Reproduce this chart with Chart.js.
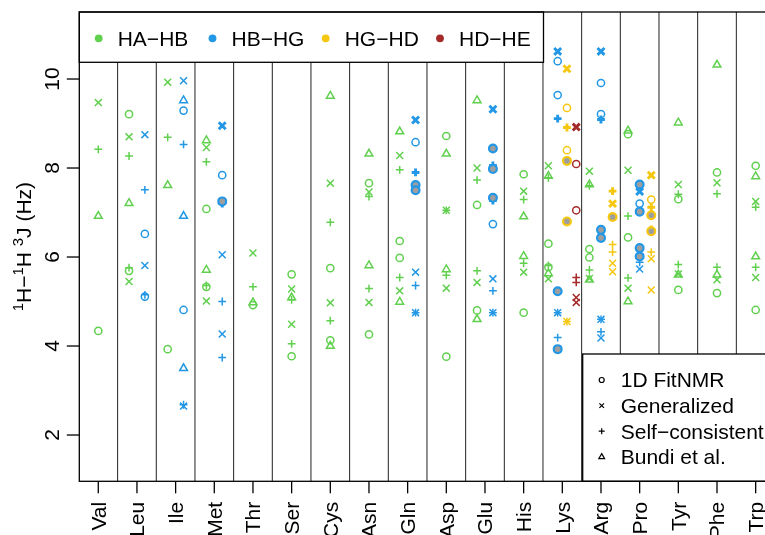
<!DOCTYPE html>
<html lang="en">
<head>
<meta charset="UTF-8">
<title>3J couplings by residue</title>
<script src="https://cdn.jsdelivr.net/npm/chart.js@4.4.0/dist/chart.umd.min.js"></script>
<style>
    html, body { margin: 0; padding: 0; background: #ffffff; overflow: hidden; }
    #wrap { position: relative; width: 765px; height: 535px; overflow: hidden; }
    #jChart { position: absolute; left: 0; top: 0; }
</style>
</head>
<body>
<div id="wrap"><canvas id="jChart" width="800" height="535"></canvas></div>
<script>
// residues along the x axis
const residues = ['Val', 'Leu', 'Ile', 'Met', 'Thr', 'Ser', 'Cys', 'Asn', 'Gln',
                  'Asp', 'Glu', 'His', 'Lys', 'Arg', 'Pro', 'Tyr', 'Phe', 'Trp'];
const couplings = ['HA\u2212HB', 'HB\u2212HG', 'HG\u2212HD', 'HD\u2212HE'];
// F = 1D FitNMR, G = Generalized, S = Self-consistent, B = Bundi et al.
const methodKeys = ['F', 'G', 'S', 'B'];
const methods = ['1D FitNMR', 'Generalized', 'Self\u2212consistent', 'Bundi et al.'];
const yTicks = [2, 4, 6, 8, 10];

// [residue, method, 3J in Hz, selected]
const haHb = [
    ['Val','F',4.34], ['Val','G',9.47], ['Val','S',8.42], ['Val','B',6.92],
    ['Leu','F',9.21], ['Leu','F',5.69], ['Leu','G',8.70], ['Leu','G',5.45], ['Leu','S',8.27], ['Leu','S',5.76], ['Leu','B',7.21],
    ['Ile','F',3.93], ['Ile','G',9.93], ['Ile','S',8.69], ['Ile','B',7.61],
    ['Met','F',7.08], ['Met','F',5.33], ['Met','G',8.46], ['Met','G',5.01], ['Met','S',8.14], ['Met','S',5.36], ['Met','B',8.62], ['Met','B',5.71],
    ['Thr','F',4.92], ['Thr','G',6.09], ['Thr','S',5.33], ['Thr','B',4.98],
    ['Ser','F',5.61], ['Ser','F',3.77], ['Ser','G',5.28], ['Ser','G',4.49], ['Ser','S',5.04], ['Ser','S',4.05], ['Ser','B',5.09],
    ['Cys','F',5.75], ['Cys','F',4.13], ['Cys','G',7.66], ['Cys','G',4.97], ['Cys','S',6.78], ['Cys','S',4.57], ['Cys','B',9.62], ['Cys','B',4.00],
    ['Asn','F',7.66], ['Asn','F',4.26], ['Asn','G',7.46], ['Asn','G',4.98], ['Asn','S',7.36], ['Asn','S',5.29], ['Asn','B',8.32], ['Asn','B',5.81],
    ['Gln','F',6.36], ['Gln','F',5.98], ['Gln','G',8.28], ['Gln','G',5.24], ['Gln','S',7.96], ['Gln','S',5.54], ['Gln','B',8.82], ['Gln','B',4.99],
    ['Asp','F',8.72], ['Asp','F',3.76], ['Asp','G',7.05], ['Asp','G',5.30], ['Asp','S',7.05], ['Asp','S',5.59], ['Asp','B',8.32], ['Asp','B',5.72],
    ['Glu','F',7.17], ['Glu','F',4.80], ['Glu','G',8.00], ['Glu','G',5.43], ['Glu','S',7.73], ['Glu','S',5.69], ['Glu','B',9.52], ['Glu','B',4.60],
    ['His','F',7.86], ['His','F',4.75], ['His','G',7.48], ['His','G',5.66], ['His','S',7.29], ['His','S',5.86], ['His','B',6.91], ['His','B',6.02],
    ['Lys','F',6.30], ['Lys','F',5.77], ['Lys','G',8.05], ['Lys','G',5.51], ['Lys','S',7.78], ['Lys','S',5.81], ['Lys','B',7.82], ['Lys','B',5.63],
    ['Arg','F',6.18], ['Arg','F',5.99], ['Arg','G',7.93], ['Arg','G',5.52], ['Arg','S',7.60], ['Arg','S',5.71], ['Arg','B',7.63], ['Arg','B',5.49],
    ['Pro','F',8.76], ['Pro','F',6.44], ['Pro','G',7.95], ['Pro','G',5.30], ['Pro','S',6.92], ['Pro','S',5.53], ['Pro','B',8.84], ['Pro','B',5.00],
    ['Tyr','F',7.30], ['Tyr','F',5.26], ['Tyr','G',7.63], ['Tyr','G',5.62], ['Tyr','S',7.41], ['Tyr','S',5.83], ['Tyr','B',9.02], ['Tyr','B',5.60],
    ['Phe','F',7.90], ['Phe','F',5.19], ['Phe','G',7.67], ['Phe','G',5.49], ['Phe','S',7.42], ['Phe','S',5.77], ['Phe','B',10.32], ['Phe','B',5.60],
    ['Trp','F',8.05], ['Trp','F',4.81], ['Trp','G',7.25], ['Trp','G',5.54], ['Trp','S',7.12], ['Trp','S',5.77], ['Trp','B',7.81], ['Trp','B',6.01]
];

const hbHg = [
    ['Leu','F',6.52], ['Leu','F',5.11], ['Leu','G',8.75], ['Leu','G',5.81], ['Leu','S',7.51], ['Leu','S',5.15],
    ['Ile','F',9.29], ['Ile','F',4.81], ['Ile','G',9.96], ['Ile','G',2.65], ['Ile','S',8.53], ['Ile','S',2.68],
    ['Ile','B',9.52], ['Ile','B',6.92], ['Ile','B',3.50],
    ['Met','F',7.84], ['Met','F',7.25,1], ['Met','G',8.95,1], ['Met','G',6.05], ['Met','G',4.27],
    ['Met','S',7.20,1], ['Met','S',5.00], ['Met','S',3.74],
    ['Gln','F',8.58], ['Gln','F',7.62,1], ['Gln','F',7.50,1], ['Gln','G',9.08,1], ['Gln','G',5.66], ['Gln','G',4.75],
    ['Gln','S',7.90,1], ['Gln','S',5.36], ['Gln','S',4.75],
    ['Glu','F',8.44,1], ['Glu','F',7.98,1], ['Glu','F',7.33,1], ['Glu','F',6.74], ['Glu','G',9.32,1], ['Glu','G',5.51], ['Glu','G',4.75],
    ['Glu','S',8.06,1], ['Glu','S',7.27,1], ['Glu','S',5.24], ['Glu','S',4.75],
    ['Lys','F',10.40], ['Lys','F',9.64], ['Lys','F',5.23,1], ['Lys','F',3.93,1], ['Lys','G',10.62,1], ['Lys','G',4.75], ['Lys','G',3.93],
    ['Lys','S',9.11,1], ['Lys','S',4.75], ['Lys','S',4.19],
    ['Arg','F',9.91], ['Arg','F',9.21], ['Arg','F',6.61,1], ['Arg','F',6.43,1], ['Arg','G',10.62,1], ['Arg','G',4.60], ['Arg','G',4.18],
    ['Arg','S',9.09,1], ['Arg','S',4.60], ['Arg','S',4.32],
    ['Pro','F',7.63,1], ['Pro','F',7.20], ['Pro','F',7.02,1], ['Pro','F',6.20,1], ['Pro','F',6.01,1],
    ['Pro','G',7.47,1], ['Pro','G',5.73], ['Pro','S',6.05,1], ['Pro','S',5.88]
];

const hgHd = [
    ['Lys','F',9.35], ['Lys','F',8.40], ['Lys','F',8.16,1], ['Lys','F',6.80,1], ['Lys','G',10.23,1], ['Lys','G',4.55],
    ['Lys','S',8.91,1], ['Lys','S',4.55],
    ['Arg','F',6.90,1], ['Arg','G',7.20,1], ['Arg','G',5.86], ['Arg','G',5.67], ['Arg','S',7.48,1], ['Arg','S',6.28], ['Arg','S',6.11],
    ['Pro','F',7.29], ['Pro','F',6.94,1], ['Pro','F',6.58,1], ['Pro','G',7.84,1], ['Pro','G',5.96], ['Pro','G',5.26],
    ['Pro','S',7.12,1], ['Pro','S',6.62,1], ['Pro','S',6.11]
];

const hdHe = [
    ['Lys','F',8.09], ['Lys','F',7.05], ['Lys','G',8.92,1], ['Lys','G',5.09], ['Lys','G',4.98], ['Lys','S',5.54], ['Lys','S',5.43]
];

const couplingData = [haHb, hbHg, hgHd, hdHe];
const colors = ['#61D04F', '#2297E6', '#F5C710', '#A52A2A'];
const pointStyles = ['circle', 'crossRot', 'cross', 'triangle'];
const pointSizes = [3.6, 4.9, 3.9, 4.5];
const FONT = '"Liberation Sans", Arial, Helvetica, sans-serif';

// horizontal spread of coupling groups inside one residue column
const spread = { 1: 0, 2: 0.41, 3: 0.30, 4: 0.24 };
const presentIn = residues.map(r => couplingData.map((d, c) => d.some(p => p[0] === r) ? c : -1).filter(c => c >= 0));

function xFor(res, c) {
    const i = residues.indexOf(res);
    const list = presentIn[i];
    const n = list.length;
    return i + 1 + (list.indexOf(c) - (n - 1) / 2) * spread[n];
}

const datasets = [];
couplingData.forEach((rows, c) => {
    methodKeys.forEach((mk, m) => {
        [0, 1].forEach(sel => {
            const pts = rows.filter(p => p[1] === mk && (p[3] ? 1 : 0) === sel)
                            .map(p => ({ x: xFor(p[0], c), y: p[2] }));
            if (!pts.length) return;
            const circle = m === 0;
            datasets.push({
                label: couplings[c] + ' ' + methods[m],
                data: pts,
                showLine: false,
                pointStyle: pointStyles[m],
                pointRadius: (sel && circle) ? 3.9 : pointSizes[m],
                pointBorderColor: colors[c],
                pointBorderWidth: sel ? (circle ? 2.2 : 2.9) : 1.5,
                pointBackgroundColor: (sel && circle) ? '#9E9E9E' : 'rgba(0,0,0,0)'
            });
        });
    });
});

// small marker used in the method legend
function legendMark(ctx, style, x, y) {
    ctx.beginPath();
    if (style === 'circle') {
        ctx.arc(x, y, 2.5, 0, Math.PI * 2);
    } else if (style === 'crossRot') {
        ctx.moveTo(x - 2.3, y - 2.3); ctx.lineTo(x + 2.3, y + 2.3);
        ctx.moveTo(x - 2.3, y + 2.3); ctx.lineTo(x + 2.3, y - 2.3);
    } else if (style === 'cross') {
        ctx.moveTo(x - 3, y); ctx.lineTo(x + 3, y);
        ctx.moveTo(x, y - 3); ctx.lineTo(x, y + 3);
    } else {
        ctx.moveTo(x, y - 3.2); ctx.lineTo(x + 2.9, y + 1.9); ctx.lineTo(x - 2.9, y + 1.9); ctx.closePath();
    }
    ctx.stroke();
}

const framePlugin = {
    id: 'frame',
    beforeDatasetsDraw(chart) {
        const { ctx, chartArea: a, scales: { x } } = chart;
        ctx.save();
        ctx.strokeStyle = '#222';
        ctx.lineWidth = 1;
        for (let k = 1; k < residues.length; k++) {
            const px = x.getPixelForValue(k + 0.5);
            ctx.beginPath();
            ctx.moveTo(px, a.top);
            ctx.lineTo(px, a.bottom);
            ctx.stroke();
        }
        ctx.restore();
    },
    afterDatasetsDraw(chart) {
        const { ctx, chartArea: a, scales: { x, y } } = chart;
        ctx.save();
        ctx.fillStyle = '#000';
        ctx.strokeStyle = '#000';
        ctx.lineWidth = 1.3;

        // coupling legend (top)
        ctx.fillStyle = '#fff';
        ctx.fillRect(a.left, a.top, 543.5 - a.left, 50.3);
        ctx.strokeRect(a.left, a.top, 543.5 - a.left, 50.3);
        const dotX = [98.7, 212.5, 325.7, 440];
        ctx.font = '21px ' + FONT;
        ctx.textAlign = 'left';
        ctx.textBaseline = 'alphabetic';
        couplings.forEach((c, i) => {
            ctx.fillStyle = colors[i];
            ctx.beginPath();
            ctx.arc(dotX[i], 38.3, 3.9, 0, Math.PI * 2);
            ctx.fill();
            ctx.fillStyle = '#000';
            ctx.fillText(c, dotX[i] + 19, 45.8);
        });

        // method legend (bottom right)
        ctx.fillStyle = '#fff';
        ctx.fillRect(582.7, 354, 300, a.bottom - 354);
        ctx.strokeRect(582.7, 354, 300, a.bottom - 354);
        ctx.lineWidth = 1.2;
        methods.forEach((m, i) => {
            const ly = 380 + i * 25.6;
            legendMark(ctx, pointStyles[i], 601.7, ly);
            ctx.fillStyle = '#000';
            ctx.fillText(m, 620.7, ly + 7.3);
        });

        // plot box
        ctx.lineWidth = 1.3;
        ctx.strokeRect(a.left, a.top, a.right - a.left, a.bottom - a.top);

        // y axis ticks and labels
        yTicks.forEach(v => {
            const py = y.getPixelForValue(v);
            ctx.beginPath();
            ctx.moveTo(a.left, py);
            ctx.lineTo(a.left - 12.5, py);
            ctx.stroke();
            ctx.save();
            ctx.translate(58.5, py);
            ctx.rotate(-Math.PI / 2);
            ctx.textAlign = 'center';
            ctx.fillText(String(v), 0, 0);
            ctx.restore();
        });

        // x axis ticks and labels
        residues.forEach((r, i) => {
            const px = x.getPixelForValue(i + 1);
            ctx.beginPath();
            ctx.moveTo(px, a.bottom);
            ctx.lineTo(px, a.bottom + 12);
            ctx.stroke();
            ctx.save();
            ctx.translate(px + 7.5, a.bottom + 20.5);
            ctx.rotate(-Math.PI / 2);
            ctx.textAlign = 'right';
            ctx.fillText(r, 0, 0);
            ctx.restore();
        });

        // y axis title: 1H-1H 3J (Hz)
        const parts = [['1', 1], ['H\u2212', 0], ['1', 1], ['H ', 0], ['3', 1], ['J (Hz)', 0]];
        const big = '21px ' + FONT, small = '15px ' + FONT;
        let total = 0;
        parts.forEach(p => { ctx.font = p[1] ? small : big; total += ctx.measureText(p[0]).width; });
        ctx.save();
        ctx.translate(31, (a.top + a.bottom) / 2);
        ctx.rotate(-Math.PI / 2);
        ctx.textAlign = 'left';
        let cx = -total / 2;
        parts.forEach(p => {
            ctx.font = p[1] ? small : big;
            ctx.fillText(p[0], cx, p[1] ? -8 : 0);
            cx += ctx.measureText(p[0]).width;
        });
        ctx.restore();
        ctx.restore();
    }
};

new Chart(document.getElementById('jChart'), {
    type: 'scatter',
    data: { datasets: datasets },
    options: {
        responsive: false,
        animation: false,
        events: [],
        layout: { padding: { left: 79.3, right: 25, top: 12, bottom: 53.7 } },
        scales: {
            x: { type: 'linear', min: 0.509, max: 18.5, display: false },
            y: { type: 'linear', min: 0.96, max: 11.506, display: false }
        },
        plugins: {
            legend: { display: false },
            tooltip: { enabled: false }
        }
    },
    plugins: [framePlugin]
});
</script>
</body>
</html>
